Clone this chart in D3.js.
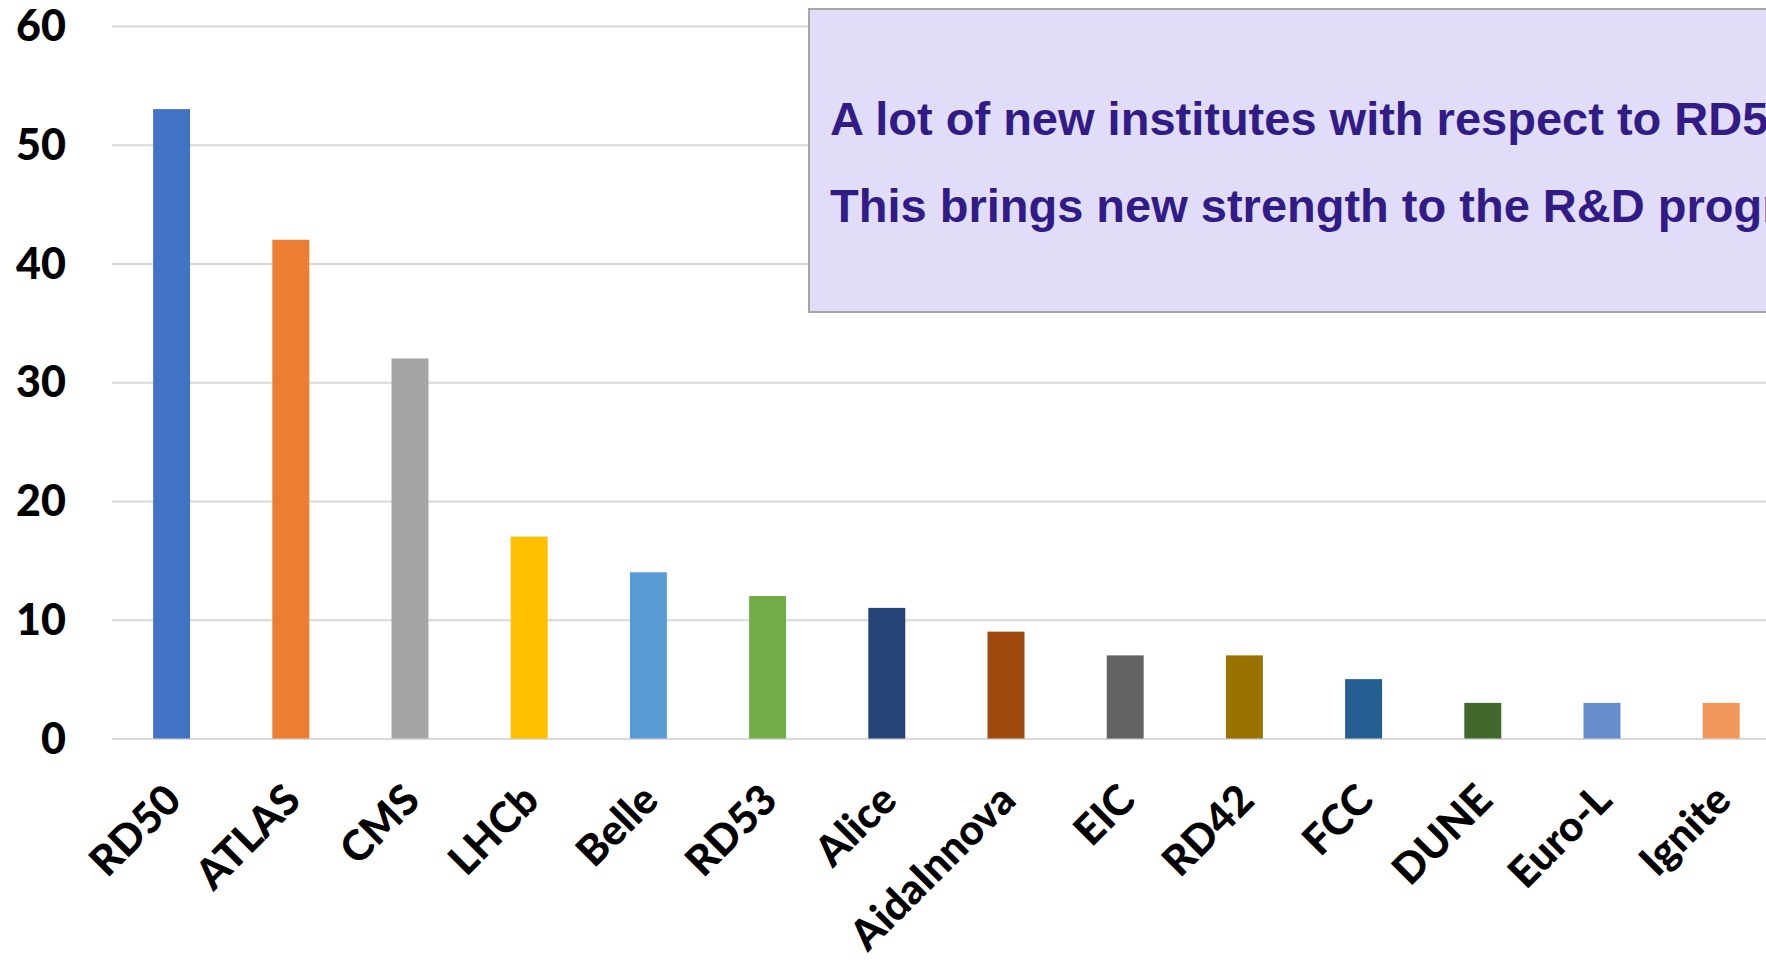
<!DOCTYPE html>
<html>
<head>
<meta charset="utf-8">
<script src="https://cdn.jsdelivr.net/npm/d3@7"></script>
<style>
  html, body { margin: 0; padding: 0; background: #fff; overflow: hidden; }
  svg { display: block; }
</style>
</head>
<body>
<svg id="chart"></svg>
<script>
// Institutes per experiment
const categories = ["RD50", "ATLAS", "CMS", "LHCb", "Belle", "RD53", "Alice",
    "AidaInnova", "EIC", "RD42", "FCC", "DUNE", "Euro-L", "Ignite"];
const counts = [53, 42, 32, 17, 14, 12, 11, 9, 7, 7, 5, 3, 3, 3];
const barColors = ["#4472C4", "#ED7D31", "#A5A5A5", "#FFC000", "#5B9BD5", "#70AD47", "#264478",
    "#9E480E", "#636363", "#997300", "#255E91", "#43682B", "#698ED0", "#F1975A"];
const yTicks = [0, 10, 20, 30, 40, 50, 60];
const noteLines = ["A lot of new institutes with respect to RD50",
    "This brings new strength to the R&D programme"];

const W = 1766, H = 970;
const data = categories.map((c, i) => ({ name: c, value: counts[i], color: barColors[i] }));

// plot area (the right side runs past the window, like the cropped original)
const plotLeft = 112, step = 119.2, plotBottom = 738.5, plotTop = 26;

var x = d3.scaleBand()
    .domain(categories)
    .range([plotLeft, plotLeft + step * categories.length])
    .paddingInner(0.69)
    .paddingOuter(0.345);

var y = d3.scaleLinear()
    .domain([0, 60])
    .range([plotBottom, plotTop]);

var svg = d3.select("#chart")
    .attr("width", W)
    .attr("height", H);

// gridlines
svg.append("g")
    .attr("class", "grid")
    .attr("transform", "translate(" + plotLeft + ",0)")
    .call(d3.axisLeft(y).tickValues(yTicks).tickSize(-(step * categories.length)).tickFormat(""))
    .call(g => g.select(".domain").remove())
    .selectAll("line")
    .attr("stroke", "#D9D9D9")
    .attr("stroke-width", 2);

// y labels
svg.append("g")
    .attr("class", "y-axis")
    .attr("transform", "translate(" + plotLeft + ",0)")
    .call(d3.axisLeft(y).tickValues(yTicks).tickSize(0).tickPadding(46))
    .call(g => g.select(".domain").remove())
    .selectAll("text")
    .attr("fill", "#000")
    .attr("dy", "0.34em")
    .style("font-family", "Lato, 'Open Sans', sans-serif")
    .style("font-weight", "900")
    .style("font-size", "43px");

// bars
svg.selectAll(".bar")
    .data(data)
    .enter().append("rect")
    .attr("class", "bar")
    .attr("x", d => x(d.name))
    .attr("y", d => y(d.value))
    .attr("width", x.bandwidth())
    .attr("height", d => y(0) - y(d.value))
    .attr("fill", d => d.color);

// x labels, rotated
svg.append("g")
    .attr("class", "x-axis")
    .attr("transform", "translate(0," + plotBottom + ")")
    .call(d3.axisBottom(x).tickSize(0))
    .call(g => g.select(".domain").remove())
    .selectAll("text")
    .attr("x", 0)
    .attr("y", 0)
    .attr("dy", null)
    .style("text-anchor", "end")
    .attr("transform", "translate(12,64) rotate(-45)")
    .attr("fill", "#000")
    .style("font-family", "Lato, 'Open Sans', sans-serif")
    .style("font-weight", "900")
    .style("font-size", "42px");

// note box
var note = svg.append("g").attr("class", "note");
note.append("rect")
    .attr("x", 809)
    .attr("y", 9)
    .attr("width", 1100)
    .attr("height", 303)
    .attr("fill", "#E1DCF7")
    .attr("stroke", "#A6A6A6")
    .attr("stroke-width", 2);

note.selectAll("text")
    .data(noteLines)
    .enter().append("text")
    .attr("x", 830)
    .attr("y", (d, i) => 135 + i * 87)
    .attr("fill", "#311B86")
    .style("font-family", "'Liberation Sans', Arial, sans-serif")
    .style("font-weight", "bold")
    .style("font-size", "47px")
    .text(d => d);
</script>
</body>
</html>
